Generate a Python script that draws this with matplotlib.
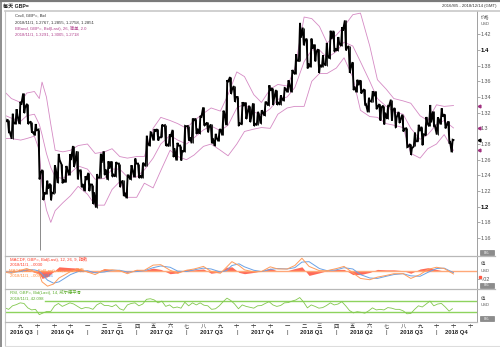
import numpy as np
import pandas as pd
import matplotlib
matplotlib.use("Agg")
import matplotlib.pyplot as plt
from matplotlib.lines import Line2D
from matplotlib.patches import Rectangle
from matplotlib.transforms import blended_transform_factory

plt.rcParams['font.family'] = ['Liberation Sans', 'Noto Sans CJK SC', 'DejaVu Sans']

# ---------------- data ----------------
week_end = list(pd.date_range('2016-08-05', '2018-10-26', freq='W-FRI')) + [pd.Timestamp('2018-11-01')]

high = [1.3135, 1.3112, 1.3186, 1.3244, 1.3339, 1.3445, 1.3313, 1.3087, 1.3055,
        1.2985, 1.2470, 1.2332, 1.2295,
        1.2528, 1.2674, 1.2540, 1.2520,
        1.2672, 1.2775, 1.2708, 1.2464, 1.2390,
        1.2432, 1.2282, 1.2417, 1.2675,
        1.2707, 1.2580, 1.2580, 1.2570,
        1.2550, 1.2335, 1.2400, 1.2530, 1.2615,
        1.2550, 1.2560, 1.2905, 1.2950,
        1.2990, 1.2990, 1.3048, 1.3040,
        1.2925, 1.2980, 1.2815, 1.2780, 1.3030,
        1.3030, 1.3125, 1.3125, 1.3160,
        1.3268, 1.3075, 1.3050, 1.2930,
        1.2980, 1.3225, 1.3615, 1.3655, 1.3540,
        1.3400, 1.3335, 1.3330, 1.3290,
        1.3320, 1.3210, 1.3230, 1.3340,
        1.3550, 1.3515, 1.3490, 1.3420, 1.3515,
        1.3613, 1.3745, 1.3945, 1.4345,
        1.4285, 1.4145, 1.4145, 1.4070,
        1.4010, 1.3930, 1.4090, 1.4245, 1.4245,
        1.4165, 1.4290, 1.4377, 1.4050,
        1.3845, 1.3620, 1.3615, 1.3500,
        1.3390, 1.3475, 1.3470, 1.3310, 1.3290,
        1.3285, 1.3365, 1.3260, 1.3210,
        1.3175, 1.3000, 1.2800, 1.2945, 1.3045,
        1.3020, 1.3145, 1.3298, 1.3215,
        1.3140, 1.3255, 1.3180, 1.3090,
        1.2855]
low = [1.3056, 1.2951, 1.2866, 1.3055, 1.3055, 1.3195, 1.3055, 1.2945, 1.2910,
       1.2350, 1.2086, 1.2160, 1.2083,
       1.2170, 1.2302, 1.2300, 1.2310,
       1.2400, 1.2510, 1.2350, 1.2250, 1.2200,
       1.2200, 1.2035, 1.1988, 1.2370,
       1.2410, 1.2345, 1.2385, 1.2385,
       1.2250, 1.2135, 1.2109, 1.2345, 1.2375,
       1.2365, 1.2365, 1.2515, 1.2775,
       1.2845, 1.2845, 1.2885, 1.2775,
       1.2770, 1.2635, 1.2590, 1.2590, 1.2700,
       1.2845, 1.2810, 1.2930, 1.2930,
       1.3035, 1.2950, 1.2810, 1.2775,
       1.2835, 1.2910, 1.3040, 1.3440, 1.3340,
       1.3030, 1.3055, 1.3120, 1.3080,
       1.3030, 1.3040, 1.3060, 1.3160,
       1.3290, 1.3300, 1.3300, 1.3300, 1.3350,
       1.3460, 1.3460, 1.3690, 1.3860,
       1.4060, 1.3765, 1.3780, 1.3855,
       1.3710, 1.3780, 1.3800, 1.3890, 1.3980,
       1.3990, 1.4050, 1.3995, 1.3710,
       1.3490, 1.3460, 1.3445, 1.3305,
       1.3205, 1.3340, 1.3245, 1.3100, 1.3050,
       1.3120, 1.3100, 1.3010, 1.3070,
       1.2960, 1.2760, 1.2662, 1.2770, 1.2835,
       1.2785, 1.2915, 1.3025, 1.3030,
       1.2920, 1.3050, 1.3000, 1.2820,
       1.2695]
close = [1.3085, 1.2955, 1.3075, 1.3160, 1.3300, 1.3265, 1.3070, 1.2960, 1.2975,
         1.2430, 1.2180, 1.2230, 1.2180,
         1.2485, 1.2598, 1.2345, 1.2475,
         1.2595, 1.2555, 1.2460, 1.2290, 1.2340,
         1.2285, 1.2185, 1.2370, 1.2560,
         1.2475, 1.2485, 1.2410, 1.2550,
         1.2300, 1.2180, 1.2400, 1.2480, 1.2550,
         1.2400, 1.2550, 1.2815, 1.2945,
         1.2960, 1.2885, 1.3030, 1.2800,
         1.2890, 1.2745, 1.2780, 1.2715, 1.3025,
         1.2885, 1.3100, 1.2995, 1.3135,
         1.3045, 1.3010, 1.2875, 1.2880,
         1.2990, 1.3205, 1.3590, 1.3490, 1.3400,
         1.3065, 1.3285, 1.3190, 1.3130,
         1.3060, 1.3190, 1.3215, 1.3330,
         1.3480, 1.3380, 1.3335, 1.3385, 1.3510,
         1.3570, 1.3720, 1.3865, 1.4155,
         1.4115, 1.3825, 1.4015, 1.3970,
         1.3810, 1.3830, 1.3930, 1.4140, 1.4020,
         1.4090, 1.4245, 1.4025, 1.3770,
         1.3530, 1.3550, 1.3470, 1.3310,
         1.3350, 1.3410, 1.3270, 1.3265, 1.3200,
         1.3280, 1.3230, 1.3135, 1.3110,
         1.2995, 1.2765, 1.2745, 1.2835, 1.2965,
         1.2925, 1.3070, 1.3075, 1.3035,
         1.3120, 1.3150, 1.3035, 1.2825,
         1.2851]
crash_date = '2016-10-07'
crash_low = 1.1450

band_dates = ['2016-08-05', '2016-08-15', '2016-09-01', '2016-09-12', '2016-09-26', '2016-10-05',
              '2016-10-10', '2016-10-18', '2016-10-26', '2016-11-03', '2016-11-17', '2016-12-01',
              '2016-12-15', '2017-01-01', '2017-01-15', '2017-02-01', '2017-02-15', '2017-03-01',
              '2017-03-15', '2017-04-01', '2017-04-15', '2017-05-01', '2017-05-15', '2017-06-01',
              '2017-06-15', '2017-07-01', '2017-07-15', '2017-08-01', '2017-08-15', '2017-09-01',
              '2017-09-15', '2017-10-01', '2017-10-15', '2017-11-01', '2017-11-15', '2017-12-01',
              '2017-12-15', '2018-01-01', '2018-01-15', '2018-02-01', '2018-02-15', '2018-03-01',
              '2018-03-15', '2018-04-01', '2018-04-15', '2018-05-01', '2018-05-15', '2018-06-01',
              '2018-06-15', '2018-07-01', '2018-07-15', '2018-08-01', '2018-08-15', '2018-09-01',
              '2018-09-15', '2018-10-01', '2018-10-15', '2018-11-01']
band_upper = [1.345, 1.338, 1.333, 1.345, 1.347, 1.338,
              1.359, 1.340, 1.305, 1.272, 1.270, 1.272,
              1.278, 1.280, 1.268, 1.270, 1.274, 1.264,
              1.262, 1.264, 1.264, 1.300, 1.314, 1.310,
              1.306, 1.300, 1.310, 1.319, 1.326, 1.322,
              1.343, 1.372, 1.366, 1.343, 1.333, 1.350,
              1.356, 1.354, 1.376, 1.442, 1.440, 1.430,
              1.409, 1.419, 1.430, 1.445, 1.447, 1.405,
              1.362, 1.350, 1.338, 1.335, 1.332, 1.316,
              1.310, 1.330, 1.328, 1.3291]
band_mid = [1.316, 1.313, 1.309, 1.316, 1.318, 1.305,
            1.292, 1.268, 1.250, 1.238, 1.236, 1.243,
            1.252, 1.248, 1.235, 1.236, 1.248, 1.248,
            1.238, 1.238, 1.247, 1.262, 1.280, 1.291,
            1.285, 1.280, 1.288, 1.298, 1.303, 1.297,
            1.304, 1.326, 1.331, 1.321, 1.317, 1.325,
            1.337, 1.340, 1.352, 1.385, 1.400, 1.400,
            1.390, 1.398, 1.410, 1.405, 1.385, 1.360,
            1.338, 1.328, 1.321, 1.318, 1.300, 1.286,
            1.292, 1.305, 1.310, 1.3005]
band_lower = [1.287, 1.287, 1.285, 1.287, 1.290, 1.272,
              1.225, 1.196, 1.180, 1.195, 1.205, 1.214,
              1.226, 1.216, 1.202, 1.202, 1.222, 1.232,
              1.212, 1.212, 1.230, 1.224, 1.246, 1.272,
              1.264, 1.260, 1.266, 1.277, 1.280, 1.272,
              1.265, 1.280, 1.296, 1.299, 1.301, 1.300,
              1.318, 1.326, 1.328, 1.328, 1.360, 1.370,
              1.370, 1.377, 1.390, 1.365, 1.323, 1.315,
              1.314, 1.306, 1.304, 1.301, 1.268, 1.262,
              1.274, 1.280, 1.292, 1.2718]

macd_dates = ['2016-08-05', '2016-08-15', '2016-09-01', '2016-09-12', '2016-09-26', '2016-10-05',
              '2016-10-10', '2016-10-20', '2016-10-31', '2016-11-10', '2016-11-20', '2016-12-01',
              '2016-12-15', '2017-01-01', '2017-01-15', '2017-02-01', '2017-02-15', '2017-03-01',
              '2017-03-15', '2017-04-01', '2017-04-15', '2017-05-01', '2017-05-15', '2017-06-01',
              '2017-06-15', '2017-07-01', '2017-07-15', '2017-08-01', '2017-08-15', '2017-09-01',
              '2017-09-12', '2017-09-22', '2017-10-05', '2017-10-15', '2017-11-01', '2017-11-15',
              '2017-12-01', '2017-12-15', '2018-01-01', '2018-01-15', '2018-01-28', '2018-02-10',
              '2018-03-01', '2018-03-15', '2018-04-01', '2018-04-15', '2018-05-01', '2018-05-15',
              '2018-06-01', '2018-06-15', '2018-07-01', '2018-07-15', '2018-08-01', '2018-08-15',
              '2018-09-01', '2018-09-15', '2018-10-01', '2018-10-15', '2018-11-01']
macd_line = [-0.004, -0.006, 0.001, 0.005, -0.002, -0.008,
             -0.026, -0.036, -0.031, -0.017, -0.010, -0.002,
             0.004, -0.003, -0.009, 0.002, 0.002, 0.000,
             -0.007, 0.001, 0.001, 0.013, 0.014, 0.001,
             -0.006, 0.001, 0.004, 0.010, -0.002, -0.006,
             0.008, 0.021, 0.012, 0.002, -0.003, -0.002,
             0.009, 0.004, 0.004, 0.012, 0.029, 0.010,
             0.000, 0.000, 0.005, 0.010, -0.005, -0.018,
             -0.021, -0.015, -0.011, -0.007, -0.007, -0.018,
             -0.009, 0.003, 0.008, 0.005, -0.0076]
signal_line = [-0.003, -0.004, -0.002, 0.002, 0.002, -0.001,
               -0.008, -0.022, -0.029, -0.026, -0.018, -0.009,
               -0.002, 0.000, -0.005, -0.003, 0.001, 0.001,
               -0.003, -0.002, 0.000, 0.007, 0.011, 0.008,
               -0.001, -0.002, 0.002, 0.006, 0.004, -0.003,
               0.000, 0.012, 0.016, 0.009, 0.001, -0.002,
               0.003, 0.005, 0.004, 0.007, 0.020, 0.021,
               0.005, 0.000, 0.002, 0.007, 0.004, -0.009,
               -0.017, -0.018, -0.013, -0.009, -0.007, -0.012,
               -0.013, -0.004, 0.005, 0.006, -0.0046]

rsi = [45, 40, 52, 56, 62, 60, 45, 38, 40, 22, 28, 33, 33, 52, 60, 50, 56, 62, 58, 50, 42, 46,
       45, 40, 55, 62, 53, 53, 49, 56, 42, 37, 55, 60, 62, 52, 58, 74, 76, 72, 62, 68, 50,
       55, 45, 48, 44, 64, 52, 62, 55, 62, 54, 52, 40, 42, 52, 66, 78, 70, 58, 42, 55, 50, 47,
       44, 52, 53, 60, 66, 55, 50, 53, 62,
       63, 68, 72, 80, 65, 45, 55, 50, 44, 46, 53, 62, 55, 58, 66, 52, 36, 28, 32, 30, 27,
       35, 45, 38, 40, 38, 46, 44, 40, 40, 35, 25, 26, 40, 52, 48, 58, 68, 52, 58, 60, 48, 34,
       42.098]

price_ticks = [1.16, 1.18, 1.2, 1.22, 1.24, 1.26, 1.28, 1.3, 1.32, 1.34, 1.36, 1.38, 1.4, 1.42]
month_labels = ['九', '十', '十', '十', '一', '二', '三', '四', '五', '六', '七', '八', '九', '十', '十', '十',
                '一', '二', '三', '四', '五', '六', '七', '八', '九', '十', '十', '十']
quarter_labels = ['2016 Q3', '2016 Q4', '2017 Q1', '2017 Q2', '2017 Q3', '2017 Q4',
                  '2018 Q1', '2018 Q2', '2018 Q3', '2018 Q4']

assert len(high) == len(low) == len(close) == len(rsi) == len(week_end)

# ---------------- figure ----------------
W, H = 500, 347
fig = plt.figure(figsize=(W / 100, H / 100), dpi=100)
fig.patch.set_facecolor('white')


def px_axes(x0, y0, x1, y1):
    return fig.add_axes([x0 / W, 1 - y1 / H, (x1 - x0) / W, (y1 - y0) / H])


def fx(x):
    return x / W


def fy(y):
    return 1 - y / H


def ftext(x, y, s, **kw):
    kw.setdefault('va', 'center')
    kw.setdefault('fontsize', 3.1)
    return fig.text(fx(x), fy(y), s, **kw)


def fline(x0, y0, x1, y1, **kw):
    fig.add_artist(Line2D([fx(x0), fx(x1)], [fy(y0), fy(y1)], transform=fig.transFigure, **kw))


XL, XR = 5, 477
x_left = pd.Timestamp('2016-08-03 07:00')
x_right = pd.Timestamp('2018-12-14')

ax_p = px_axes(XL, 11, XR, 255.7)
ax_m = px_axes(XL, 255.7, XR, 289.3)
ax_r = px_axes(XL, 289.3, XR, 321.7)

for ax in (ax_p, ax_m, ax_r):
    ax.set_xlim(x_left, x_right)
    ax.set_facecolor('none')
    for s in ('top', 'bottom', 'left'):
        ax.spines[s].set_visible(False)
    ax.spines['right'].set_color('#a0a0a0')
    ax.spines['right'].set_linewidth(0.7)
    ax.set_xticks([])
    ax.yaxis.tick_right()
    ax.tick_params(axis='y', length=2, width=0.5, color='#888888', pad=0.8,
                   labelsize=3.9, labelcolor='#555555')

# weekly path: previous close -> low/high (order by direction) -> close
we = pd.to_datetime(week_end)
path_x, path_y = [], []
prev = close[0]
for i, d in enumerate(we):
    up = close[i] >= prev
    first, second = (low[i], high[i]) if up else (high[i], low[i])
    path_x += [d - pd.Timedelta(days=3.5), d - pd.Timedelta(days=1.5), d]
    path_y += [first, second, close[i]]
    prev = close[i]

# ---- price panel ----
ax_p.set_ylim(1.1375, 1.4497)
bd = pd.to_datetime(band_dates)
band_col = '#d58ac4'
ax_p.plot(bd, band_upper, color=band_col, lw=0.6)
ax_p.plot(bd, band_mid, color=band_col, lw=0.6)
ax_p.plot(bd, band_lower, color=band_col, lw=0.6)
ax_p.vlines([pd.Timestamp(crash_date)], crash_low, 1.24, color='#777777', lw=0.6)
ax_p.vlines(we - pd.Timedelta(days=2), low, high, color='#222222', lw=0.7)
ax_p.plot(path_x, path_y, color='black', lw=1.35, solid_joinstyle='miter')
ax_p.set_yticks(price_ticks)
ax_p.set_yticklabels([f'{v:g}' for v in price_ticks])
for lab, v in zip(ax_p.get_yticklabels(), price_ticks):
    if abs(v - 1.4) < 1e-9 or abs(v - 1.2) < 1e-9:
        lab.set_fontweight('bold')
        lab.set_color('black')
        lab.set_fontsize(4.3)

bt = blended_transform_factory(fig.transFigure, ax_p.transData)
for v in (band_upper[-1], band_mid[-1], band_lower[-1]):
    ax_p.plot([fx(479)], [v], marker='<', ms=2.0, color='#a03080', transform=bt, clip_on=False)
ax_p.plot([fx(479)], [close[-1]], marker='<', ms=2.0, color='black', transform=bt, clip_on=False)

# ---- MACD panel ----
ax_m.set_ylim(-0.0433, 0.0349)
md = pd.to_datetime(macd_dates)
macd_arr = np.array(macd_line)
sig_arr = np.array(signal_line)
ax_m.fill_between(md, 0, macd_arr - sig_arr, color='#ff5a46', lw=0, alpha=0.9)
ax_m.axhline(0, color='#ffa878', lw=1.0)
ax_m.plot(md, sig_arr, color='#6aa2e6', lw=0.7)
ax_m.plot(md, macd_arr, color='#ff9c5c', lw=0.7)
ax_m.set_yticks([-0.02])
ax_m.set_yticklabels(['-.02'])

# ---- RSI panel ----
ax_r.set_ylim(-1.9, 108)
ax_r.axhline(30, color='#8ed35e', lw=1.0)
ax_r.axhline(70, xmin=0.085, color='#8ed35e', lw=1.0)
ax_r.plot(we - pd.Timedelta(days=2), rsi, color='#82c84e', lw=0.6)
ax_r.set_yticks([])

# ---------------- frame & separators ----------------
fline(0, 0.6, W, 0.6, color='#7a7a7a', lw=1.6)
fline(0.8, 0, 0.8, H, color='#7a7a7a', lw=1.2)
fline(XL, 11, W, 11, color='#c8c8c8', lw=1.2)
fline(XL, 11, XL, 345, color='#c8c8c8', lw=0.8)
fline(XL, 345.5, W, 345.5, color='#dddddd', lw=0.8)
for yy in (255.7, 289.3):
    fline(XL, yy, 495, yy, color='#b8b8b8', lw=0.9)
fline(XL, 321.7, XR, 321.7, color='#b8b8b8', lw=0.9)

for yy in (252.5, 285.5, 318.5):
    fig.add_artist(Rectangle((fx(480), fy(yy + 2.6)), 14 / W, 5.2 / H, transform=fig.transFigure,
                             facecolor='#8c8c8c', edgecolor='#6e6e6e', lw=0.4))
    ftext(487, yy, '0%', color='white', fontsize=2.8, ha='center')

# ---------------- texts ----------------
ftext(3, 6.3, '每天 GBP=', fontsize=3.7, fontweight='bold', color='#222222')
ftext(497, 6.3, '2016/8/5 - 2018/12/14 (GMT)', fontsize=3.1, ha='right', color='#333333')

ftext(481, 17, '价格', fontsize=3.1, color='#555555')
ftext(481, 24, 'USD', fontsize=3.0, color='#555555')

ftext(15, 16, 'Cndl, GBP=, Bid', color='#333333')
ftext(15, 22.3, '2018/11/1, 1.2767, 1.2855, 1.2758, 1.2851', color='#333333')
ftext(15, 28.7, 'BBand, GBP=, Bid(Last), 26, 简单, 2.0', color='#b0408c')
ftext(15, 35, '2018/11/1, 1.3291, 1.3005, 1.2718', color='#b0408c')

ftext(10, 259.3, 'MACDF, GBP=, Bid(Last), 12, 26, 9, 指数', color='#ff3a26')
ftext(10, 264.8, '2018/11/1, -.0030', color='#ff3a26')
ftext(9, 270.3, 'MACD, GBP=, Bid(Last), 12, 26, 9, 指数', color='#ff8a3c')
ftext(10, 276, '2018/11/1, -.0076,', color='#ff8a3c')
ftext(42, 276, '-.0046', color='#4a8ee0')

ftext(481, 264, '值', fontsize=3.1, color='#555555')
ftext(481, 271.5, 'USD', fontsize=3.0, color='#555555')
ax_m.plot([fx(480)], [-0.014], marker='s', ms=1.6, color='#ff5a46',
          transform=blended_transform_factory(fig.transFigure, ax_m.transData), clip_on=False)

ftext(10, 292.5, 'RSI, GBP=, Bid(Last), 14, 威尔德平滑', color='#5eae2e')
ftext(10, 298.8, '2018/11/1, 42.098', color='#5eae2e')
ftext(481, 298.5, '值', fontsize=3.1, color='#555555')
ftext(481, 305, 'USD', fontsize=3.0, color='#555555')

# ---------------- bottom axis labels ----------------
bx = blended_transform_factory(ax_r.transData, fig.transFigure)
months = pd.date_range('2016-09-01', '2018-12-01', freq='MS')
for m, lab in zip(months, month_labels):
    ax_r.text(m, fy(326), lab, transform=bx, ha='center', va='center', fontsize=3.8,
              color='#333333', clip_on=False)

q_starts = pd.date_range('2016-07-01', '2018-10-01', freq='QS')
for q, lab in zip(q_starts, quarter_labels):
    q_end = q + pd.offsets.QuarterBegin(startingMonth=1)
    a = max(q, x_left)
    b = min(q_end, x_right)
    mid = a + (b - a) / 2
    ax_r.text(mid, fy(332.5), lab, transform=bx, ha='center', va='center', fontsize=4.2,
              fontweight='bold', color='#222222', clip_on=False)
    if q > x_left:
        ax_r.text(q, fy(332.5), '|', transform=bx, ha='center', va='center', fontsize=4.2,
                  color='#333333', clip_on=False)

fig.savefig('out.png', dpi=100, facecolor='white')
